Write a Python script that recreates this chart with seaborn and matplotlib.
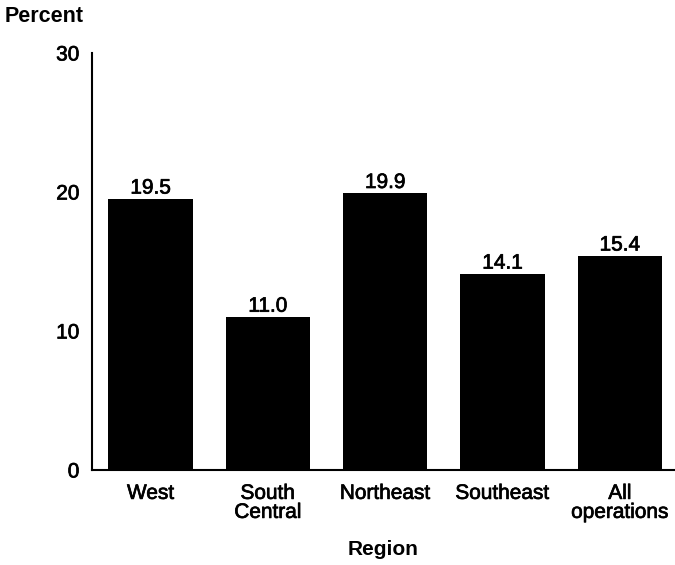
import matplotlib
matplotlib.use("Agg")
import matplotlib.pyplot as plt
import matplotlib.patheffects as pe
import seaborn as sns
import pandas as pd

regions = ["West", "South\nCentral", "Northeast", "Southeast", "All\noperations"]
percent = [19.5, 11.0, 19.9, 14.1, 15.4]
y_ticks = [0, 10, 20, 30]

df = pd.DataFrame({"Region": regions, "Percent": percent})

sns.set_style("white")
plt.rcParams["font.family"] = ["Liberation Sans", "DejaVu Sans"]
plt.rcParams["text.color"] = "black"
plt.rcParams["axes.labelcolor"] = "black"
plt.rcParams["xtick.color"] = "black"
plt.rcParams["ytick.color"] = "black"

heavy = [pe.withStroke(linewidth=0.5, foreground="black")]

fig = plt.figure(figsize=(6.75, 5.65), dpi=100)
ax = fig.add_axes([92 / 675, 1 - 470 / 565, 1 - 92 / 675, 417 / 565])

sns.barplot(data=df, x="Region", y="Percent", color="black", width=0.72,
            saturation=1, linewidth=0, edgecolor="none", ax=ax)

for c in ax.containers:
    for t in ax.bar_label(c, fmt="%.1f", padding=1, fontsize=15, color="black"):
        t.set_path_effects(heavy)

ax.set_ylim(0, 30)
ax.set_xlim(-0.5, 4.47)
ax.set_yticks(y_ticks)
ax.tick_params(axis="both", length=0, labelsize=15, labelcolor="black")
ax.tick_params(axis="y", pad=9)
ax.tick_params(axis="x", pad=10)
for lbl in ax.get_xticklabels() + ax.get_yticklabels():
    lbl.set_linespacing(1.0)
    lbl.set_path_effects(heavy)

sns.despine(ax=ax, top=True, right=True)
for s in ["left", "bottom"]:
    ax.spines[s].set_color("black")
    ax.spines[s].set_linewidth(1.5)
    ax.spines[s].set_zorder(3)

ax.set_xlabel("Region", fontsize=15, fontweight="bold", labelpad=13, color="black")
ax.set_ylabel("")
fig.text(5 / 675, 1 - 17 / 565, "Percent", fontsize=15.5, fontweight="bold",
         ha="left", va="center", color="black")

fig.savefig("out.png", dpi=100)
